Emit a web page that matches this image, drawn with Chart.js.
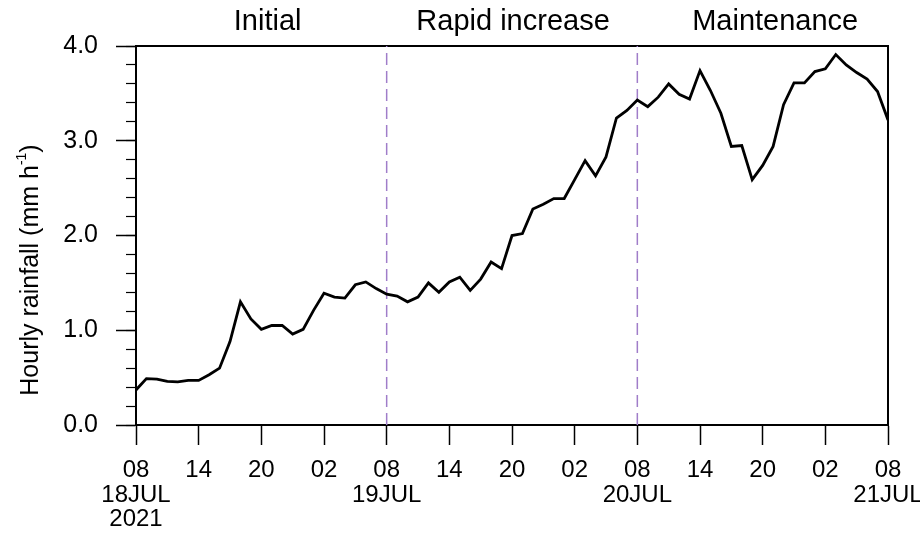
<!DOCTYPE html>
<html>
<head>
<meta charset="utf-8">
<script src="https://cdn.jsdelivr.net/npm/chart.js@4.4.1/dist/chart.umd.min.js"></script>
<style>
  html, body { margin: 0; padding: 0; background: #fff; }
  #wrap { width: 920px; height: 534px; }
</style>
</head>
<body>
<div id="wrap"><canvas id="rain" width="920" height="534"></canvas></div>
<script>
// hourly rainfall (mm/h), one value per hour from 08 18JUL 2021 to 08 21JUL 2021
const rainfall = [
  0.37, 0.49, 0.485, 0.46, 0.455, 0.47, 0.47, 0.53, 0.60, 0.88,
  1.30, 1.12, 1.01, 1.05, 1.05, 0.96, 1.01, 1.21, 1.39, 1.35,
  1.34, 1.48, 1.51, 1.44, 1.38, 1.36, 1.30, 1.35, 1.50, 1.40,
  1.51, 1.56, 1.42, 1.54, 1.72, 1.65, 2.00, 2.02, 2.28, 2.33,
  2.39, 2.39, 2.59, 2.79, 2.63, 2.83, 3.24, 3.32, 3.43, 3.36,
  3.46, 3.60, 3.49, 3.44, 3.74, 3.53, 3.29, 2.94, 2.95, 2.59,
  2.74, 2.94, 3.38, 3.61, 3.61, 3.73, 3.76, 3.91, 3.80, 3.72,
  3.65, 3.52, 3.22
];

// x axis ticks (hour offsets) and their label lines
const tickHours = [0, 6, 12, 18, 24, 30, 36, 42, 48, 54, 60, 66, 72];
const tickClock = ['08', '14', '20', '02', '08', '14', '20', '02', '08', '14', '20', '02', '08'];
const tickDate  = ['18JUL', '', '', '', '19JUL', '', '', '', '20JUL', '', '', '', '21JUL'];
const tickYear  = ['2021', '', '', '', '', '', '', '', '', '', '', '', ''];

// stages written above the plot and the hours that separate them
const phaseNames = ['Initial', 'Rapid increase', 'Maintenance'];
const phaseCenters = [12.6, 36.1, 61.2];
const phaseBreaks = [24, 48];

const fontFamily = '"Liberation Sans", Arial, Helvetica, sans-serif';

const lineData = rainfall.map((v, i) => ({ x: i, y: v }));

const breakSets = phaseBreaks.map(h => ({
  data: [{ x: h, y: 0 }, { x: h, y: 4 }],
  borderColor: '#a07dc9',
  borderWidth: 1.5,
  borderDash: [12, 6],
  pointRadius: 0,
  order: 2
}));

// y title with a real superscript
const yTitle = {
  id: 'yTitle',
  afterDraw(chart) {
    const ctx = chart.ctx;
    ctx.save();
    ctx.translate(31, 270);
    ctx.rotate(-Math.PI / 2);
    ctx.fillStyle = '#000';
    ctx.textBaseline = 'middle';
    ctx.textAlign = 'left';
    const main = 'Hourly rainfall (mm h';
    ctx.font = '25px ' + fontFamily;
    const w1 = ctx.measureText(main).width;
    const w3 = ctx.measureText(')').width;
    ctx.font = '14px ' + fontFamily;
    const w2 = ctx.measureText('-1').width;
    let x = -(w1 + w2 + w3) / 2;
    ctx.font = '25px ' + fontFamily;
    ctx.fillText(main, x, 0);
    x += w1;
    ctx.font = '14px ' + fontFamily;
    ctx.fillText('-1', x, -9);
    x += w2;
    ctx.font = '25px ' + fontFamily;
    ctx.fillText(')', x, 0);
    ctx.restore();
  }
};

new Chart(document.getElementById('rain'), {
  type: 'line',
  data: {
    datasets: [{
      data: lineData,
      borderColor: '#000',
      borderWidth: 2.8,
      pointRadius: 0,
      tension: 0,
      order: 1
    }].concat(breakSets)
  },
  options: {
    responsive: false,
    devicePixelRatio: 1,
    animation: false,
    layout: { padding: 0 },
    plugins: { legend: { display: false }, tooltip: { enabled: false } },
    scales: {
      x: {
        type: 'linear',
        position: 'bottom',
        min: 0,
        max: 72,
        afterBuildTicks: axis => { axis.ticks = tickHours.map(v => ({ value: v })); },
        afterFit: axis => { axis.height = 109; axis.paddingLeft = 0; axis.paddingRight = 0; },
        ticks: {
          autoSkip: false,
          maxRotation: 0,
          minRotation: 0,
          padding: 13,
          color: '#000',
          font: { family: fontFamily, size: 24, lineHeight: 1.03 },
          callback: (v, i) => [tickClock[i], tickDate[i], tickYear[i]].filter(s => s !== '')
        },
        grid: { drawOnChartArea: false, drawTicks: true, tickLength: 20, tickColor: '#000', tickWidth: 1.5 },
        border: { display: true, color: '#000', width: 2 }
      },
      xTop: {
        type: 'linear',
        position: 'top',
        min: 0,
        max: 72,
        afterBuildTicks: axis => { axis.ticks = phaseCenters.map(v => ({ value: v })); },
        afterFit: axis => { axis.height = 46; axis.paddingLeft = 0; axis.paddingRight = 0; },
        ticks: {
          autoSkip: false,
          maxRotation: 0,
          minRotation: 0,
          padding: 7,
          color: '#000',
          font: { family: fontFamily, size: 29 },
          callback: (v, i) => phaseNames[i]
        },
        grid: { drawOnChartArea: false, drawTicks: false },
        border: { display: true, color: '#000', width: 2 }
      },
      y: {
        position: 'left',
        weight: 1,
        min: 0,
        max: 4,
        afterFit: axis => { axis.width = 136; },
        ticks: {
          stepSize: 1,
          padding: 18,
          color: '#000',
          font: { family: fontFamily, size: 25 },
          callback: v => v.toFixed(1)
        },
        grid: { drawOnChartArea: false, drawTicks: true, tickLength: 20, tickColor: '#000', tickWidth: 1.5 },
        border: { display: true, color: '#000', width: 2 }
      },
      yMinor: {
        position: 'left',
        weight: 0,
        min: 0,
        max: 4,
        afterFit: axis => { axis.width = 0; },
        ticks: { stepSize: 0.2, display: false },
        grid: { drawOnChartArea: false, drawTicks: true, tickLength: 10, tickColor: '#000', tickWidth: 1.2 },
        border: { display: false }
      },
      yRight: {
        position: 'right',
        min: 0,
        max: 4,
        afterFit: axis => { axis.width = 32; },
        ticks: { display: false },
        grid: { drawOnChartArea: false, drawTicks: false },
        border: { display: true, color: '#000', width: 2 }
      }
    }
  },
  plugins: [yTitle]
});
</script>
</body>
</html>
